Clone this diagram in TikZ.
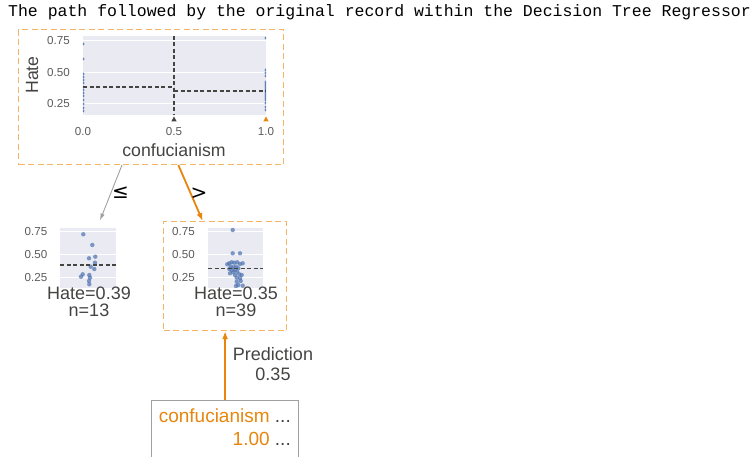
\documentclass[tikz,border=0pt]{standalone}
\usepackage{fontspec}
\setmainfont{Liberation Sans}
\newfontfamily\monof{Liberation Mono}
\newfontfamily\dejavu{DejaVu Sans}
\usetikzlibrary{arrows.meta,calc}
\definecolor{orng}{RGB}{232,133,12}
\definecolor{boxorng}{RGB}{244,180,100}
\definecolor{txtgray}{RGB}{68,68,67}
\definecolor{tickgray}{RGB}{90,90,90}
\definecolor{plotbg}{RGB}{234,234,242}
\definecolor{dotblue}{RGB}{76,114,176}
\definecolor{edgegray}{RGB}{160,160,160}
\begin{document}
\begin{tikzpicture}[x=1pt,y=-1pt,
  tick/.style={text=tickgray, font=\fontsize{11.6}{12}\selectfont, inner sep=0pt},
  lab/.style={text=txtgray, font=\fontsize{18}{20}\selectfont, inner sep=0pt},
  dbox/.style={draw=boxorng, dash pattern=on 6pt off 3.5pt, line width=1.2pt, inner sep=0pt},
  gridln/.style={white, line width=1pt},
  splitln/.style={dash pattern=on 4pt off 2.5pt, line width=1.1pt, draw=txtgray},
  dot/.style={fill=dotblue, opacity=0.7},
  sdot/.style={fill=dotblue, opacity=0.85},
  edgelab/.style={inner sep=0pt, font=\dejavu\fontsize{20}{21}\selectfont},
]
\useasboundingbox (0,0) rectangle (756,457);
\clip (0,0) rectangle (756,457);

% title
\node[anchor=base west, inner sep=0pt, font=\monof\fontsize{16.5}{18}\selectfont] (title) at (8,17)
  {The path followed by the original record within the Decision Tree Regressor};

% ---------- top node ----------
\node[dbox, minimum width=265pt, minimum height=135pt, anchor=north west] (top) at (18,29) {};
\fill[plotbg] (83,36) rectangle (266,115);
\foreach \yy in {41,73,104} \draw[gridln] (83,\yy) -- (266,\yy);
\foreach \yy in {44,59,74,77,80,83,87,90,93,96,100,104,108,111}
  \fill[sdot] (83.6,\yy) ellipse (0.9pt and 1.6pt);
\foreach \yy in {38,70,73,76,82,84,86,88,90,92,94,96,98,100,103,107,110}
  \fill[sdot] (265.4,\yy) ellipse (0.9pt and 1.6pt);
\draw[splitln] (174,36) -- (174,115);
\draw[splitln] (83,87) -- (174,87);
\draw[splitln] (174,91) -- (266,91);
\fill[txtgray] (174,116.5) -- (171.3,121.5) -- (176.7,121.5) -- cycle;
\fill[orng] (266,116.5) -- (263.3,121.5) -- (268.7,121.5) -- cycle;
\node[tick, anchor=east] (ty1) at (70,41) {0.75};
\node[tick, anchor=east] (ty2) at (70,73) {0.50};
\node[tick, anchor=east] (ty3) at (70,104) {0.25};
\node[tick] (tx1) at (83,131.5) {0.0};
\node[tick] (tx2) at (174,131.5) {0.5};
\node[tick] (tx3) at (266,131.5) {1.0};
\node[lab, rotate=90, font=\fontsize{17.7}{19}\selectfont] (hate) at (32,75) {Hate};
\node[lab, font=\fontsize{17.7}{19}\selectfont] (xlab) at (174,150) {confucianism};

% ---------- left child ----------
\node[minimum width=120pt, minimum height=95pt, inner sep=0pt, anchor=north west] (lchild) at (20,225) {};
\fill[plotbg] (60,228) rectangle (116,288);
\foreach \yy in {232,255,278} \draw[gridln] (60,\yy) -- (116,\yy);
\foreach \p in {(83.3,234.3),(92.3,245),(89,258.3),(95.3,256.7),(95,262.7),(90.7,266.7),(94.3,269),(89.3,275),(82.7,274.3),(81,276.7),(90,277.7),(89,281),(89.3,284.3)}
  \fill[dot] \p circle (2.2pt);
\draw[splitln] (60,265) -- (116,265);
\node[tick, anchor=east] (l1) at (47.5,232) {0.75};
\node[tick, anchor=east] (l2) at (47.5,255) {0.50};
\node[tick, anchor=east] (l3) at (47.5,278) {0.25};
\node[lab, anchor=base] (lval) at (89,300) {Hate=0.39};
\node[lab, anchor=base] (ln) at (89,317) {n=13};

% ---------- right child ----------
\node[dbox, minimum width=123pt, minimum height=109pt, anchor=north west] (rchild) at (163,221) {};
\fill[plotbg] (208,228) rectangle (263,288);
\foreach \yy in {232,255,278} \draw[gridln] (208,\yy) -- (263,\yy);
\foreach \p in {(232.7,230),(232.7,253.3),(240,253.3),(229.3,263.3),(231.7,262.3),(234.3,262.7),(237.3,262.3),(240,264),(242.7,263.3),(227.3,264.3),(230.7,266.7),(233.3,267.3),(236,266.7),(238.3,268.3),(229.3,269),(231.7,270),(235,270),(237.3,271.7),(233.3,272.3),(230,273.3),(239.3,274.3),(241.7,275),(235,275),(236.7,277.7),(240,278.3),(240.7,281),(236.7,281.7),(238.3,285),(242.7,285.7),(236,286)}
  \fill[dot] \p circle (2.2pt);
\draw[splitln] (208,268.5) -- (263,268.5);
\node[tick, anchor=east] (r1) at (195,232) {0.75};
\node[tick, anchor=east] (r2) at (195,255) {0.50};
\node[tick, anchor=east] (r3) at (195,278) {0.25};
\node[lab, anchor=base] (rval) at (236,300) {Hate=0.35};
\node[lab, anchor=base] (rn) at (236,317) {n=39};

% ---------- edges ----------
\coordinate (e1s) at (122,165);
\coordinate (e1t) at (100,220.5);
\coordinate (e2s) at (178.3,165);
\coordinate (e2t) at (202.7,221);
\draw[edgegray, line width=0.9pt, -{Latex[length=7pt,width=4.5pt]}] (e1s) -- (e1t);
\draw[orng, line width=1.8pt, -{Latex[length=8pt,width=6pt]}] (e2s) -- (e2t);
\node[edgelab] (le) at (120.5,193) {≤};
\node[edgelab] (gt) at (199,193.5) {>};

% ---------- leaf ----------
\node[draw=edgegray, line width=1pt, minimum width=147pt, minimum height=70pt, inner sep=0pt, anchor=north west] (leaf) at (151,400) {};
\node[anchor=base east, inner sep=0pt, text=txtgray, font=\fontsize{19}{20}\selectfont] (leaf1) at (291,422) {\textcolor{orng}{confucianism} ...};
\node[anchor=base east, inner sep=0pt, text=txtgray, font=\fontsize{19}{20}\selectfont] (leaf2) at (291,446) {\textcolor{orng}{1.00} ...};
\draw[orng, line width=1.8pt, -{Latex[length=8pt,width=6pt]}] (leaf.north) -- (rchild.south);
\node[lab, anchor=base] (pred1) at (273,361) {Prediction};
\node[lab, anchor=base] (pred2) at (273,381) {0.35};
\end{tikzpicture}
\end{document}
